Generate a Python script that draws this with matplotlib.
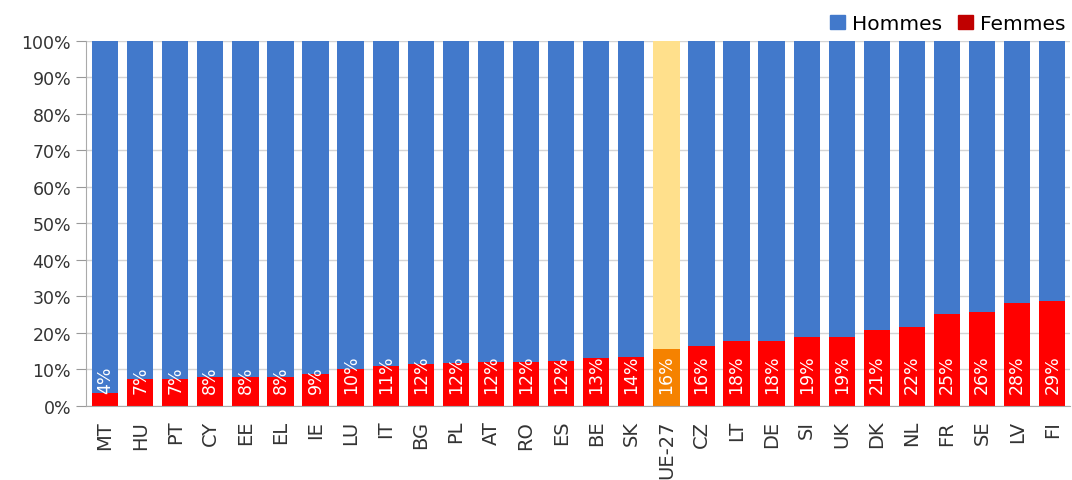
import matplotlib.pyplot as plt
from matplotlib.patches import Patch
from matplotlib.ticker import PercentFormatter

# Part des femmes (%) par pays, triée
countries = ['MT', 'HU', 'PT', 'CY', 'EE', 'EL', 'IE', 'LU', 'IT', 'BG', 'PL', 'AT', 'RO',
             'ES', 'BE', 'SK', 'UE-27', 'CZ', 'LT', 'DE', 'SI', 'UK', 'DK', 'NL', 'FR',
             'SE', 'LV', 'FI']
women = [3.5, 7.3, 7.5, 8.0, 8.0, 8.0, 8.8, 10.0, 11.0, 11.6, 11.7, 12.0, 12.0,
         12.4, 13.0, 13.5, 15.6, 16.4, 17.8, 17.8, 18.8, 18.8, 20.7, 21.7, 25.2,
         25.6, 28.1, 28.7]
women_labels = ['4%', '7%', '7%', '8%', '8%', '8%', '9%', '10%', '11%', '12%', '12%', '12%',
                '12%', '12%', '13%', '14%', '16%', '16%', '18%', '18%', '19%', '19%',
                '21%', '22%', '25%', '26%', '28%', '29%']
men = [100 - w for w in women]
highlight = 'UE-27'

BLUE = '#4279CB'
RED = '#FF0000'
LEGEND_RED = '#C00000'
EU_BLUE = '#FFE08C'
EU_RED = '#F58200'

fig = plt.figure(figsize=(10.72, 4.81), dpi=100)
ax = fig.add_axes([0.080, 0.154, 0.918, 0.759])

x = range(len(countries))
col_w = [EU_RED if c == highlight else RED for c in countries]
col_m = [EU_BLUE if c == highlight else BLUE for c in countries]
ax.bar(x, women, width=0.75, color=col_w, zorder=2)
ax.bar(x, men, bottom=women, width=0.75, color=col_m, zorder=2)

for i, lab in enumerate(women_labels):
    ax.text(i, 3.6, lab, rotation=90, ha='center', va='bottom',
            color='white', fontsize=12.5, zorder=3)

ax.set_xlim(-0.55, len(countries) - 0.5)
ax.set_ylim(0, 100)
ax.set_yticks(range(0, 101, 10))
ax.yaxis.set_major_formatter(PercentFormatter(decimals=0))
ax.set_xticks(list(x))
ax.set_xticklabels(countries, rotation=90, fontsize=14, color='#333333')
ax.tick_params(axis='x', length=0, pad=10)
ax.tick_params(axis='y', labelsize=12.5, labelcolor='#333333', color='#999999',
               length=7, direction='out')
ax.grid(axis='y', color='#D4D4D4', linewidth=1, zorder=0)
for s in ['top', 'right']:
    ax.spines[s].set_visible(False)
for s in ['left', 'bottom']:
    ax.spines[s].set_color('#AAAAAA')

handles = [Patch(color=BLUE, label='Hommes'), Patch(color=LEGEND_RED, label='Femmes')]
fig.legend(handles=handles, loc='center right', bbox_to_anchor=(0.994, 0.949), ncol=2,
           frameon=False, fontsize=14.5, handlelength=0.75, handleheight=0.75,
           handletextpad=0.35, columnspacing=0.8, borderaxespad=0.0, borderpad=0.0)

fig.savefig('out.png', dpi=100)
